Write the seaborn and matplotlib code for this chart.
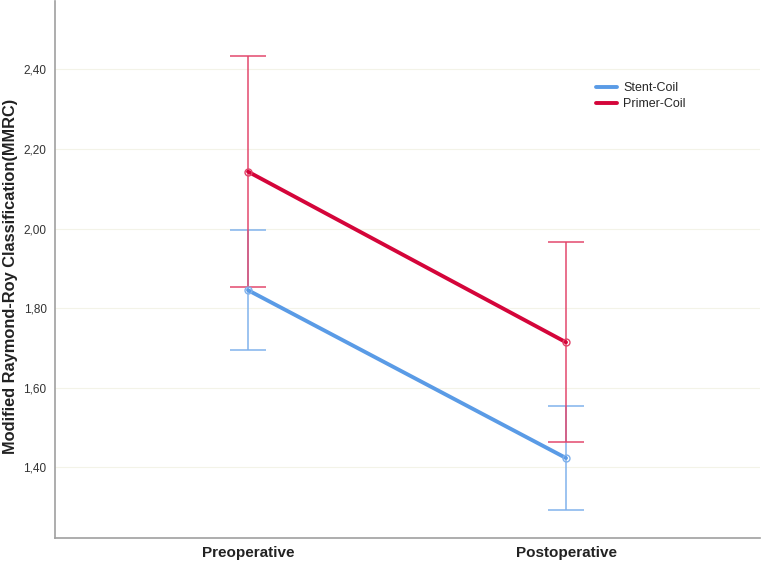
import matplotlib
matplotlib.use("Agg")
import matplotlib.pyplot as plt
import seaborn as sns
import pandas as pd
import numpy as np
from matplotlib.lines import Line2D

categories = ["Preoperative", "Postoperative"]
groups = ["Stent-Coil", "Primer-Coil"]
stent_mean = [1.845, 1.423]
stent_err = [0.151, 0.131]
primer_mean = [2.143, 1.714]
primer_err = [0.290, 0.251]
yticks = [1.40, 1.60, 1.80, 2.00, 2.20, 2.40]
ytick_labels = ["1,40", "1,60", "1,80", "2,00", "2,20", "2,40"]

line_colors = {"Stent-Coil": "#5a9be6", "Primer-Coil": "#d4053a"}
err_colors = {"Stent-Coil": "#7fb1ec", "Primer-Coil": "#e2456a"}

df = pd.DataFrame({
    "time": categories * 2,
    "x": [0, 1, 0, 1],
    "group": [groups[0]] * 2 + [groups[1]] * 2,
    "mean": stent_mean + primer_mean,
    "err": stent_err + primer_err,
})

sns.set_style("white")
plt.rcParams["font.family"] = ["Liberation Sans", "DejaVu Sans"]

fig = plt.figure(figsize=(7.62, 5.62), dpi=100)
ax = fig.add_axes([55 / 762, 24 / 562, 705 / 762, 537 / 562])

for g in groups:
    sub = df[df["group"] == g]
    ax.errorbar(sub["x"], sub["mean"], yerr=sub["err"], fmt="none",
                ecolor=err_colors[g], elinewidth=1.2, capsize=13.3,
                capthick=1.2, alpha=0.9, zorder=2)

sns.lineplot(data=df, x="x", y="mean", hue="group", hue_order=groups,
             palette=line_colors, linewidth=2.8, ax=ax, legend=False,
             zorder=3, sort=False)
for g in groups:
    sub = df[df["group"] == g]
    ax.plot(sub["x"], sub["mean"], linestyle="none", marker="o",
            markersize=5, markerfacecolor="none",
            markeredgecolor=err_colors[g], markeredgewidth=1.0, zorder=4)

ax.set_xlim(-0.607, 1.61)
ax.set_ylim(1.222, 2.572)
ax.set_xticks([0, 1])
ax.set_xticklabels(categories, fontsize=11, fontweight="bold", color="#222222")
ax.set_yticks(yticks)
ax.set_yticklabels(ytick_labels, fontsize=8.5, color="#333333")
ax.tick_params(axis="both", length=0)
ax.tick_params(axis="y", pad=6)
ax.tick_params(axis="x", pad=6)
ax.set_xlabel("")
ax.set_ylabel("Modified Raymond-Roy Classification(MMRC)", fontsize=11.8,
              fontweight="bold", color="#222222")
ax.yaxis.set_label_coords(-0.053, 0.487)

ax.grid(axis="y", color="#f3f3e8", linewidth=0.8)
ax.set_axisbelow(True)
for s in ["top", "right"]:
    ax.spines[s].set_visible(False)
for s in ["left", "bottom"]:
    ax.spines[s].set_color("#a0a0a0")
    ax.spines[s].set_linewidth(1.2)

handles = [Line2D([], [], color=line_colors[g], linewidth=2.8) for g in groups]
ax.legend(handles, groups, loc="upper left", bbox_to_anchor=(0.760, 0.858),
          frameon=False, fontsize=9, handlelength=1.7, handletextpad=0.5,
          labelspacing=0.3, borderaxespad=0)

fig.savefig("out.png", dpi=100)
